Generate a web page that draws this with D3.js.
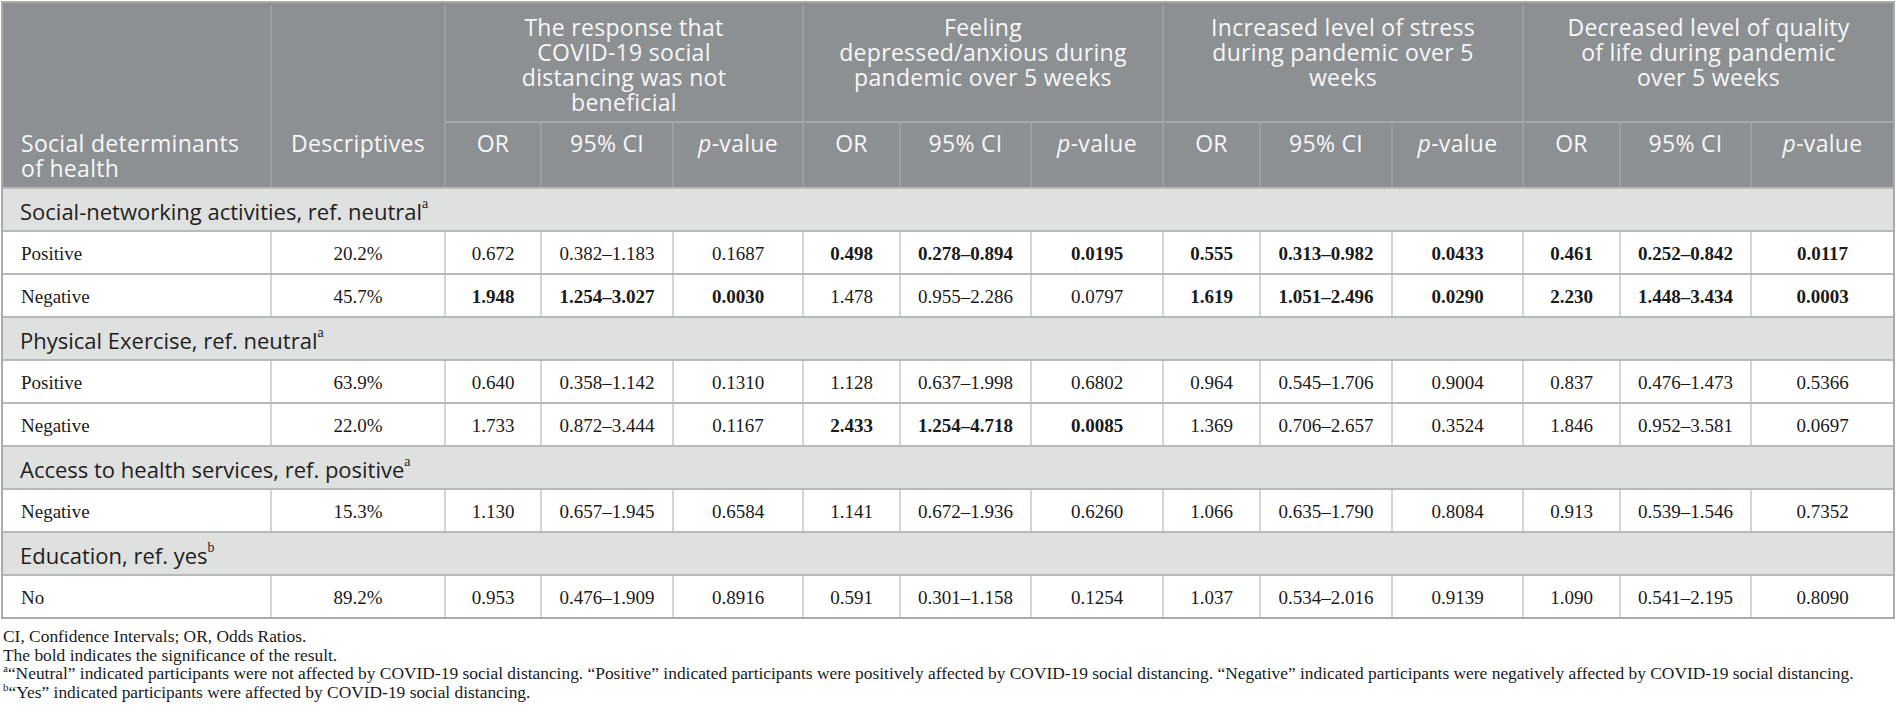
<!DOCTYPE html>
<html>
<head>
<meta charset="utf-8">
<script src="https://cdn.jsdelivr.net/npm/d3@7"></script>
<style>
  html, body { margin: 0; padding: 0; background: #fff; }
  svg { display: block; }
</style>
</head>
<body>
<div id="chart"></div>
<script>
"use strict";

// ==========  Data  ==========
var outcomeTitles = [
  ["The response that", "COVID-19 social", "distancing was not", "beneficial"],
  ["Feeling", "depressed/anxious during", "pandemic over 5 weeks"],
  ["Increased level of stress", "during pandemic over 5", "weeks"],
  ["Decreased level of quality", "of life during pandemic", "over 5 weeks"]
]
var statLabels    = ["OR", "95% CI", "p-value"]
var sectionNames  = ["Social-networking activities, ref. neutral", "Physical Exercise, ref. neutral",
                     "Access to health services, ref. positive", "Education, ref. yes"]
var sectionNotes  = ["a", "a", "a", "b"]
var rowSection    = [0, 0, 1, 1, 2, 3]
var rowLabels     = ["Positive", "Negative", "Positive", "Negative", "Negative", "No"]
var descriptives  = [20.2, 45.7, 63.9, 22.0, 15.3, 89.2]
var oddsRatios = [
  [0.672, 0.498, 0.555, 0.461],
  [1.948, 1.478, 1.619, 2.230],
  [0.640, 1.128, 0.964, 0.837],
  [1.733, 2.433, 1.369, 1.846],
  [1.130, 1.141, 1.066, 0.913],
  [0.953, 0.591, 1.037, 1.090]
]
var ciLower = [
  [0.382, 0.278, 0.313, 0.252],
  [1.254, 0.955, 1.051, 1.448],
  [0.358, 0.637, 0.545, 0.476],
  [0.872, 1.254, 0.706, 0.952],
  [0.657, 0.672, 0.635, 0.539],
  [0.476, 0.301, 0.534, 0.541]
]
var ciUpper = [
  [1.183, 0.894, 0.982, 0.842],
  [3.027, 2.286, 2.496, 3.434],
  [1.142, 1.998, 1.706, 1.473],
  [3.444, 4.718, 2.657, 3.581],
  [1.945, 1.936, 1.790, 1.546],
  [1.909, 1.158, 2.016, 2.195]
]
var pValues = [
  [0.1687, 0.0195, 0.0433, 0.0117],
  [0.0030, 0.0797, 0.0290, 0.0003],
  [0.1310, 0.6802, 0.9004, 0.5366],
  [0.1167, 0.0085, 0.3524, 0.0697],
  [0.6584, 0.6260, 0.8084, 0.7352],
  [0.8916, 0.1254, 0.9139, 0.8090]
]
var footnotes = [
  ["", "CI, Confidence Intervals; OR, Odds Ratios."],
  ["", "The bold indicates the significance of the result."],
  ["a", "\u201CNeutral\u201D indicated participants were not affected by COVID-19 social distancing. \u201CPositive\u201D indicated participants were positively affected by COVID-19 social distancing. \u201CNegative\u201D indicated participants were negatively affected by COVID-19 social distancing."],
  ["b", "\u201CYes\u201D indicated participants were affected by COVID-19 social distancing."]
]

// ==========  Layout  ==========
var width = 1896, height = 722
var colEdges = [2, 271, 445, 541, 673, 803, 900, 1031, 1163, 1260, 1392, 1523, 1620, 1751, 1894]
var headTop = 2, headMid = 122, headBottom = 188, bodyBottom = 618
var sansFont  = "'Open Sans', 'Noto Sans', sans-serif"
var serifFont = "'Liberation Serif', 'DejaVu Serif', serif"
var headerFill = "#8c9093", headerLine = "#a5a8aa", sectionFill = "#dfe1e0", gridLine = "#b8baba"

var fmtOR = d3.format(".3f"), fmtP = d3.format(".4f"), fmtPct = d3.format(".1f")
var colCenter = function(c) { return (colEdges[c] + colEdges[c + 1]) / 2 }

// body rows: section headers followed by their data rows
var bodyRows = []
sectionNames.forEach(function(name, s) {
  bodyRows.push({ type: "section", index: s })
  rowSection.forEach(function(sec, r) { if (sec === s) bodyRows.push({ type: "data", index: r }) })
})

var y = d3.scaleBand().domain(d3.range(bodyRows.length)).range([headBottom, bodyBottom])

var svg = d3.select("#chart").append("svg").attr("width", width).attr("height", height)

// ==========  Header  ==========
svg.append("rect").attr("x", colEdges[0]).attr("y", headTop)
   .attr("width", colEdges[14] - colEdges[0]).attr("height", headBottom - headTop)
   .attr("fill", headerFill)

var headLines = svg.append("g").attr("stroke", headerLine).attr("stroke-width", 1.3)
headLines.append("line").attr("x1", colEdges[2]).attr("x2", colEdges[14])
         .attr("y1", headMid).attr("y2", headMid).attr("stroke-width", 2)
;[1, 2, 5, 8, 11].forEach(function(c) {
  headLines.append("line").attr("x1", colEdges[c]).attr("x2", colEdges[c])
           .attr("y1", headTop + 3).attr("y2", headBottom)
})
;[3, 4, 6, 7, 9, 10, 12, 13].forEach(function(c) {
  headLines.append("line").attr("x1", colEdges[c]).attr("x2", colEdges[c])
           .attr("y1", headMid).attr("y2", headBottom)
})

var headText = svg.append("g").attr("fill", "#f7f7f7")
                  .style("font-family", sansFont).style("font-size", "23px").style("letter-spacing", "0.3px")

outcomeTitles.forEach(function(lines, g) {
  var cx = (colEdges[2 + g * 3] + colEdges[5 + g * 3]) / 2
  headText.selectAll(null).data(lines).enter().append("text")
    .attr("x", cx).attr("y", function(d, i) { return 27 + i * 25 })
    .attr("text-anchor", "middle").attr("dominant-baseline", "central")
    .text(function(d) { return d })
})

headText.selectAll(null).data(["Social determinants", "of health"]).enter().append("text")
  .attr("x", 21).attr("y", function(d, i) { return 143 + i * 25 })
  .attr("dominant-baseline", "central").text(function(d) { return d })

headText.append("text").attr("x", colCenter(1)).attr("y", 143)
  .attr("text-anchor", "middle").attr("dominant-baseline", "central").text("Descriptives")

d3.range(12).forEach(function(k) {
  var label = statLabels[k % 3]
  var t = headText.append("text").attr("x", colCenter(2 + k)).attr("y", 143)
    .attr("text-anchor", "middle").attr("dominant-baseline", "central")
  if (label === "p-value") {
    t.append("tspan").style("font-style", "italic").text("p")
    t.append("tspan").text("-value")
  } else {
    t.text(label)
  }
})

// ==========  Body  ==========
var body = svg.append("g")

body.selectAll("rect.row").data(bodyRows).enter().append("rect").attr("class", "row")
  .attr("x", colEdges[0]).attr("width", colEdges[14] - colEdges[0])
  .attr("y", function(d, i) { return y(i) }).attr("height", y.bandwidth())
  .attr("fill", function(d) { return d.type === "section" ? sectionFill : "#fff" })

// vertical grid in data rows
bodyRows.forEach(function(row, i) {
  if (row.type !== "data") return
  body.selectAll(null).data(d3.range(1, 14)).enter().append("line")
    .attr("x1", function(c) { return colEdges[c] }).attr("x2", function(c) { return colEdges[c] })
    .attr("y1", y(i)).attr("y2", y(i) + y.bandwidth())
    .attr("stroke", gridLine).attr("stroke-width", 1.2)
})

// horizontal grid
body.selectAll("line.h").data(d3.range(bodyRows.length + 1)).enter().append("line").attr("class", "h")
  .attr("x1", colEdges[0]).attr("x2", colEdges[14])
  .attr("y1", function(i) { return i < bodyRows.length ? y(i) : bodyBottom })
  .attr("y2", function(i) { return i < bodyRows.length ? y(i) : bodyBottom })
  .attr("stroke", gridLine).attr("stroke-width", 2)

// outer border
svg.append("rect").attr("x", colEdges[0]).attr("y", headTop)
   .attr("width", colEdges[14] - colEdges[0]).attr("height", bodyBottom - headTop)
   .attr("fill", "none").attr("stroke", "#a9acab").attr("stroke-width", 2)

// section titles
bodyRows.forEach(function(row, i) {
  if (row.type !== "section") return
  var t = body.append("text").attr("x", 20).attr("y", y(i) + y.bandwidth() / 2 + 1)
    .attr("dominant-baseline", "central").attr("fill", "#1e1e1e")
    .style("font-family", sansFont).style("font-size", "22px")
  t.append("tspan").text(sectionNames[row.index])
  t.append("tspan").attr("dy", -8).style("font-family", serifFont).style("font-size", "14px")
   .text(sectionNotes[row.index])
})

// data cells
bodyRows.forEach(function(row, i) {
  if (row.type !== "data") return
  var r = row.index
  var cells = [{ c: 0, text: rowLabels[r], bold: false, left: true },
               { c: 1, text: fmtPct(descriptives[r]) + "%", bold: false }]
  for (var g = 0; g < 4; ++g) {
    var sig = pValues[r][g] < 0.05
    cells.push({ c: 2 + g * 3, text: fmtOR(oddsRatios[r][g]), bold: sig })
    cells.push({ c: 3 + g * 3, text: fmtOR(ciLower[r][g]) + "\u2013" + fmtOR(ciUpper[r][g]), bold: sig })
    cells.push({ c: 4 + g * 3, text: fmtP(pValues[r][g]), bold: sig })
  }
  body.selectAll(null).data(cells).enter().append("text")
    .attr("x", function(d) { return d.left ? 21 : colCenter(d.c) })
    .attr("y", y(i) + y.bandwidth() / 2 + 1)
    .attr("text-anchor", function(d) { return d.left ? "start" : "middle" })
    .attr("dominant-baseline", "central").attr("fill", "#1a1a1a")
    .style("font-family", serifFont).style("font-size", "19px")
    .style("font-weight", function(d) { return d.bold ? "bold" : "normal" })
    .text(function(d) { return d.text })
})

// ==========  Footnotes  ==========
var notes = svg.append("g").style("font-family", serifFont).style("font-size", "17.4px").attr("fill", "#1a1a1a")
notes.selectAll("text").data(footnotes).enter().append("text")
  .attr("x", 3).attr("y", function(d, i) { return 636 + i * 18.5 })
  .attr("dominant-baseline", "central")
  .each(function(d) {
    var t = d3.select(this)
    if (d[0]) t.append("tspan").attr("dy", -5).style("font-size", "11px").text(d[0])
    t.append("tspan").attr("dy", d[0] ? 5 : 0).text(d[1])
  })
</script>
</body>
</html>
